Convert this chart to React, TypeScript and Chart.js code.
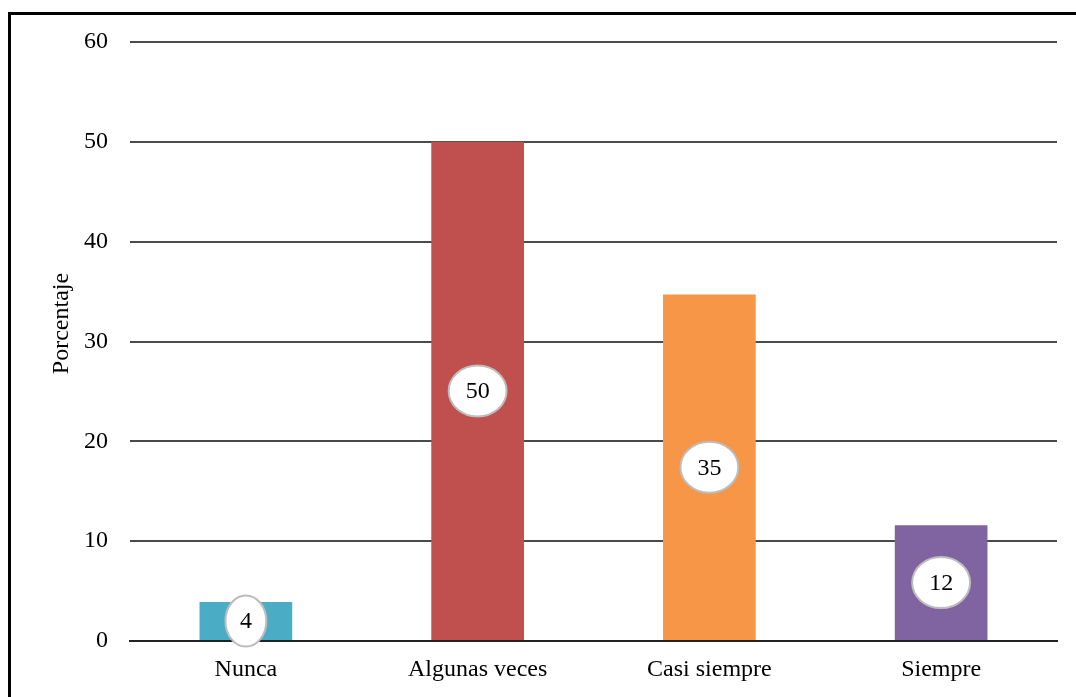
import React, { useEffect, useRef } from "react";
import { Chart, registerables } from "chart.js";

Chart.register(...registerables);

const categories = ["Nunca", "Algunas veces", "Casi siempre", "Siempre"];
const values = [3.9, 50, 34.7, 11.6];
const valueLabels = ["4", "50", "35", "12"];
const barColors = ["#4BACC6", "#C0504D", "#F79646", "#8064A2"];
const yTicks = [0, 10, 20, 30, 40, 50, 60];
const yTitle = "Porcentaje";

const FONT = "'Liberation Serif', 'Times New Roman', serif";

const ellipseLabels = {
  id: "ellipseLabels",
  afterDatasetsDraw(chart: any) {
    const ctx = chart.ctx;
    const meta = chart.getDatasetMeta(0);
    ctx.save();
    ctx.font = `24px ${FONT}`;
    ctx.textAlign = "center";
    ctx.textBaseline = "middle";
    meta.data.forEach((bar: any, i: number) => {
      const text = valueLabels[i];
      const tw = ctx.measureText(text).width;
      const cx = bar.x;
      const cy = (bar.y + bar.base) / 2;
      const rx = (1.414 * tw + 24) / 2;
      const ry = 25.5;
      ctx.beginPath();
      ctx.ellipse(cx, cy, rx, ry, 0, 0, Math.PI * 2);
      ctx.fillStyle = "#ffffff";
      ctx.fill();
      ctx.lineWidth = 2;
      ctx.strokeStyle = "#bdbdbd";
      ctx.stroke();
      ctx.fillStyle = "#000000";
      ctx.fillText(text, cx, cy + 1);
    });
    ctx.restore();
  },
};

const yTitlePlugin = {
  id: "yTitlePlugin",
  afterDraw(chart: any) {
    const ctx = chart.ctx;
    const area = chart.chartArea;
    const cy = (area.top + area.bottom) / 2 - 18;
    ctx.save();
    ctx.translate(62, cy);
    ctx.rotate(-Math.PI / 2);
    ctx.font = `24px ${FONT}`;
    ctx.fillStyle = "#000000";
    ctx.textAlign = "center";
    ctx.textBaseline = "middle";
    ctx.fillText(yTitle, 0, 0);
    ctx.restore();
  },
};

export default function App() {
  const canvasRef = useRef<HTMLCanvasElement | null>(null);

  useEffect(() => {
    if (!canvasRef.current) return;
    const chart = new Chart(canvasRef.current, {
      type: "bar",
      data: {
        labels: categories,
        datasets: [
          {
            data: values,
            backgroundColor: barColors,
            borderWidth: 0,
            barPercentage: 0.4,
            categoryPercentage: 1,
          },
        ],
      },
      plugins: [ellipseLabels, yTitlePlugin],
      options: {
        animation: false,
        responsive: false,
        maintainAspectRatio: false,
        layout: { padding: { top: 42, right: 19, bottom: 0, left: 0 } },
        plugins: {
          legend: { display: false },
          tooltip: { enabled: false },
          title: { display: false },
        },
        scales: {
          x: {
            grid: { display: false, drawTicks: false },
            border: { display: true, color: "#222222", width: 2 },
            ticks: {
              color: "#000000",
              padding: 14,
              font: { family: FONT, size: 24 },
              maxRotation: 0,
              autoSkip: false,
            },
            afterFit: (scale: any) => {
              scale.height = 56;
            },
          },
          y: {
            min: 0,
            max: 60,
            afterBuildTicks: (scale: any) => {
              scale.ticks = yTicks.map((v) => ({ value: v }));
            },
            grid: { color: "#4a4a4a", lineWidth: 2, drawTicks: false },
            border: { display: false },
            ticks: {
              color: "#000000",
              padding: 22,
              font: { family: FONT, size: 24 },
            },
            title: { display: false },
            afterFit: (scale: any) => {
              scale.width = 130;
            },
          },
        },
      },
    });
    return () => chart.destroy();
  }, []);

  return (
    <div
      style={{
        position: "fixed",
        left: 0,
        top: 0,
        width: 1076,
        height: 697,
        overflow: "hidden",
        background: "#ffffff",
      }}
    >
      <div
        style={{
          position: "absolute",
          left: 8,
          top: 12,
          width: 1120,
          height: 740,
          border: "3px solid #000000",
          boxSizing: "border-box",
        }}
      />
      <canvas
        ref={canvasRef}
        width={1076}
        height={697}
        style={{ position: "absolute", left: 0, top: 0, width: 1076, height: 697 }}
      />
    </div>
  );
}
